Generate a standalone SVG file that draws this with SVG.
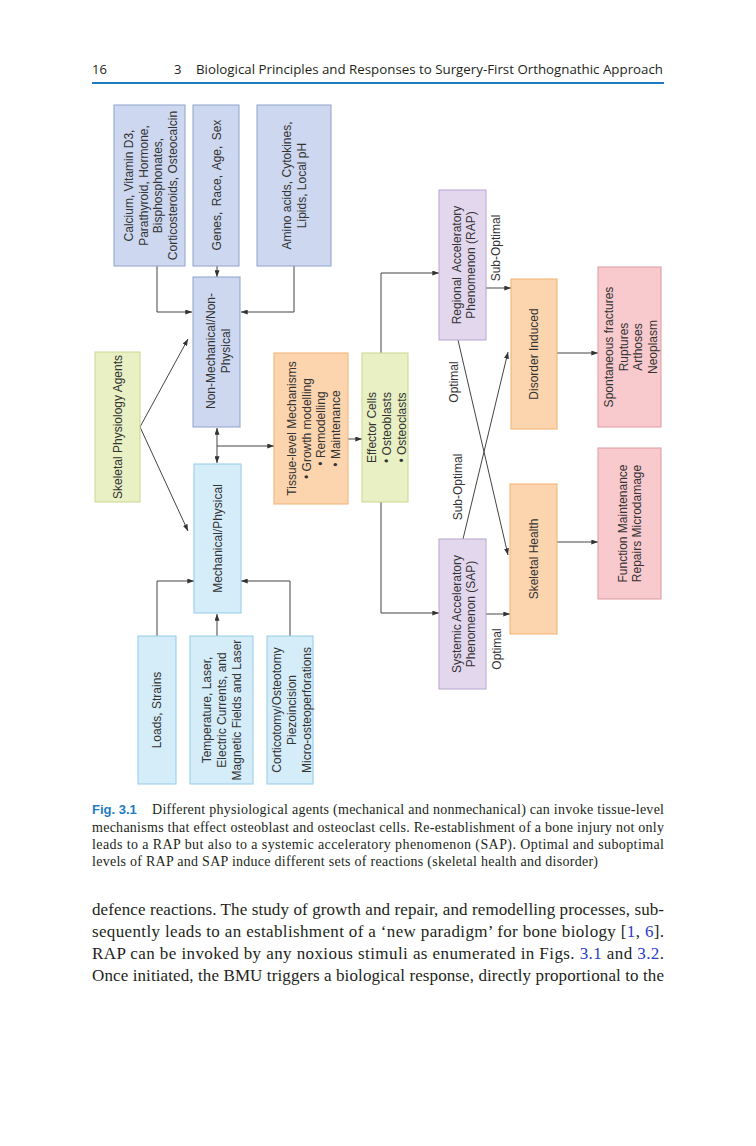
<svg xmlns="http://www.w3.org/2000/svg" width="756" height="1146" viewBox="0 0 756 1146">
<defs>
<marker id="ar" viewBox="0 0 8 6" refX="8" refY="3" markerWidth="7" markerHeight="5" markerUnits="userSpaceOnUse" orient="auto-start-reverse"><path d="M0,0 L8,3 L0,6 z" fill="#333"/></marker>
<style>
.bl{fill:#cdd8f0;stroke:#8ea2cc;stroke-width:1}
.lb{fill:#d5ecf9;stroke:#92cbe8;stroke-width:1}
.yg{fill:#e9f0c4;stroke:#c9d88f;stroke-width:1}
.or{fill:#fcd5ae;stroke:#f2b071;stroke-width:1}
.pu{fill:#e3d7ee;stroke:#b7a6d2;stroke-width:1}
.pk{fill:#f8c9cd;stroke:#dc9aa0;stroke-width:1}
.t{font-family:"Liberation Sans",Arial,sans-serif;font-size:12px;fill:#333;text-anchor:middle;dominant-baseline:central}
.c{fill:none;stroke:#444;stroke-width:1}
.hd{font-family:"Open Sans","Liberation Sans",sans-serif;font-size:13px;fill:#231f20}
.cap{font-family:"Liberation Serif","Times New Roman",serif;font-size:14px;fill:#231f20}
.bd{font-family:"Liberation Serif","Times New Roman",serif;font-size:17px;fill:#231f20}
.lk{fill:#2a3cc8}
</style>
</defs>
<rect width="756" height="1146" fill="#fff"/>

<g id="header">
<text class="hd" x="92" y="74">16</text>
<text class="hd" x="174" y="74">3</text>
<text class="hd" x="196" y="74" textLength="467" lengthAdjust="spacingAndGlyphs">Biological Principles and Responses to Surgery-First Orthognathic Approach</text>
<line x1="92" y1="83" x2="664" y2="83" stroke="#1f7cc1" stroke-width="2"/>
</g>

<g id="connectors" marker-end="url(#ar)">
<path class="c" d="M157,266 V312 H192"/>
<path class="c" d="M217,266 V277"/>
<path class="c" d="M294,266 V312 H241"/>
<path class="c" d="M140,427 L188,339"/>
<path class="c" d="M140,427 L188,531"/>
<path class="c" d="M217,428 V463" marker-start="url(#ar)"/>
<path class="c" d="M217,446 H274"/>
<path class="c" d="M348,439 H362"/>
<path class="c" d="M381,353 V273 H439"/>
<path class="c" d="M381,502 V613 H439"/>
<path class="c" d="M157,636 V581 H194"/>
<path class="c" d="M217,636 V614"/>
<path class="c" d="M290,636 V581 H241"/>
<path class="c" d="M486,288 H511"/>
<path class="c" d="M458,340 L508,555"/>
<path class="c" d="M463,539 L508,352"/>
<path class="c" d="M486,614 H510"/>
<path class="c" d="M557,353 H598"/>
<path class="c" d="M557,542 H598"/>
</g>

<g id="edge-labels">
<text class="t" transform="translate(496,248) rotate(-90)">Sub-Optimal</text>
<text class="t" transform="translate(454,382) rotate(-90)">Optimal</text>
<text class="t" transform="translate(458,487) rotate(-90)">Sub-Optimal</text>
<text class="t" transform="translate(497,649) rotate(-90)">Optimal</text>
</g>

<g id="calcium">
<rect class="bl" x="114" y="105" width="71" height="161"/>
<text class="t" transform="translate(151,185.5) rotate(-90)"><tspan x="0" y="-22">Calcium, Vitamin D3,</tspan><tspan x="0" y="-7.3">Parathyroid, Hormone,</tspan><tspan x="0" y="7.3">Bisphosphonates,</tspan><tspan x="0" y="22">Corticosteroids, Osteocalcin</tspan></text>
</g>
<g id="genes">
<rect class="bl" x="193" y="105" width="46" height="161"/>
<text class="t" transform="translate(217,185) rotate(-90)" word-spacing="2">Genes, Race, Age, Sex</text>
</g>
<g id="amino">
<rect class="bl" x="257" y="105" width="74" height="161"/>
<text class="t" transform="translate(294.5,185.5) rotate(-90)"><tspan x="0" y="-7.5">Amino acids, Cytokines,</tspan><tspan x="0" y="7.5">Lipids, Local pH</tspan></text>
</g>
<g id="nonmech">
<rect class="bl" x="193" y="277" width="47" height="150"/>
<text class="t" transform="translate(218.5,351) rotate(-90)"><tspan x="0" y="-7.5">Non-Mechanical/Non-</tspan><tspan x="0" y="7.5">Physical</tspan></text>
</g>
<g id="agents">
<rect class="yg" x="95" y="352" width="45" height="150"/>
<text class="t" transform="translate(117.5,427) rotate(-90)">Skeletal Physiology Agents</text>
</g>
<g id="mech">
<rect class="lb" x="194" y="464" width="47" height="149"/>
<text class="t" transform="translate(217.5,538.5) rotate(-90)">Mechanical/Physical</text>
</g>
<g id="tissue">
<rect class="or" x="274" y="353" width="74" height="151"/>
<text class="t" transform="translate(314,428.5) rotate(-90)"><tspan x="0" y="-22">Tissue-level Mechanisms</tspan><tspan x="0" y="-7.3">• Growth modelling</tspan><tspan x="0" y="7.3">• Remodelling</tspan><tspan x="0" y="22">• Maintenance</tspan></text>
</g>
<g id="effector">
<rect class="yg" x="362" y="353" width="46" height="149"/>
<text class="t" transform="translate(387,427.5) rotate(-90)"><tspan x="0" y="-15">Effector Cells</tspan><tspan x="0" y="0">• Osteoblasts</tspan><tspan x="0" y="15">• Osteoclasts</tspan></text>
</g>
<g id="loads">
<rect class="lb" x="138" y="636" width="38" height="148"/>
<text class="t" transform="translate(157,710) rotate(-90)">Loads, Strains</text>
</g>
<g id="temperature">
<rect class="lb" x="190" y="636" width="63" height="148"/>
<text class="t" transform="translate(222,710) rotate(-90)"><tspan x="0" y="-15">Temperature, Laser,</tspan><tspan x="0" y="0">Electric Currents, and</tspan><tspan x="0" y="15">Magnetic Fields and Laser</tspan></text>
</g>
<g id="corticotomy">
<rect class="lb" x="267" y="636" width="46" height="148"/>
<text class="t" transform="translate(292,710) rotate(-90)"><tspan x="0" y="-15">Corticotomy/Osteotomy</tspan><tspan x="0" y="0">Piezoincision</tspan><tspan x="0" y="15">Micro-osteoperforations</tspan></text>
</g>
<g id="rap">
<rect class="pu" x="439" y="190" width="47" height="150"/>
<text class="t" transform="translate(464,265) rotate(-90)"><tspan x="0" y="-7" word-spacing="2">Regional Acceleratory</tspan><tspan x="0" y="7">Phenomenon (RAP)</tspan></text>
</g>
<g id="disorder">
<rect class="or" x="511" y="279" width="46" height="150"/>
<text class="t" transform="translate(533.5,354) rotate(-90)">Disorder Induced</text>
</g>
<g id="spontaneous">
<rect class="pk" x="598" y="267" width="63" height="160"/>
<text class="t" transform="translate(631,347) rotate(-90)"><tspan x="0" y="-22">Spontaneous fractures</tspan><tspan x="0" y="-7.3">Ruptures</tspan><tspan x="0" y="7.3">Arthoses</tspan><tspan x="0" y="22">Neoplasm</tspan></text>
</g>
<g id="sap">
<rect class="pu" x="439" y="539" width="47" height="150"/>
<text class="t" transform="translate(464,614) rotate(-90)"><tspan x="0" y="-7">Systemic Acceleratory</tspan><tspan x="0" y="7">Phenomenon (SAP)</tspan></text>
</g>
<g id="health">
<rect class="or" x="510" y="484" width="47" height="150"/>
<text class="t" transform="translate(533.5,559) rotate(-90)">Skeletal Health</text>
</g>
<g id="function">
<rect class="pk" x="598" y="448" width="63" height="151"/>
<text class="t" transform="translate(630,523.5) rotate(-90)"><tspan x="0" y="-7">Function Maintenance</tspan><tspan x="0" y="7">Repairs Microdamage</tspan></text>
</g>

<g id="caption">
<text x="92" y="814" font-family="Liberation Sans,Arial,sans-serif" font-weight="bold" font-size="13" fill="#1f7cc1">Fig. 3.1</text>
<text class="cap" x="152" y="814" textLength="512" lengthAdjust="spacing">Different physiological agents (mechanical and nonmechanical) can invoke tissue-level</text>
<text class="cap" x="92" y="832" textLength="572" lengthAdjust="spacing">mechanisms that effect osteoblast and osteoclast cells. Re-establishment of a bone injury not only</text>
<text class="cap" x="92" y="849" textLength="572" lengthAdjust="spacing">leads to a RAP but also to a systemic acceleratory phenomenon (SAP). Optimal and suboptimal</text>
<text class="cap" x="92" y="866" textLength="506" lengthAdjust="spacing">levels of RAP and SAP induce different sets of reactions (skeletal health and disorder)</text>
</g>

<g id="body">
<text class="bd" x="92" y="915" textLength="572" lengthAdjust="spacing">defence reactions. The study of growth and repair, and remodelling processes, sub-</text>
<text class="bd" x="92" y="937" textLength="572" lengthAdjust="spacing">sequently leads to an establishment of a ‘new paradigm’ for bone biology [<tspan class="lk">1</tspan>, <tspan class="lk">6</tspan>].</text>
<text class="bd" x="92" y="959" textLength="572" lengthAdjust="spacing">RAP can be invoked by any noxious stimuli as enumerated in Figs. <tspan class="lk">3.1</tspan> and <tspan class="lk">3.2</tspan>.</text>
<text class="bd" x="92" y="981" textLength="572" lengthAdjust="spacing">Once initiated, the BMU triggers a biological response, directly proportional to the</text>
</g>
</svg>
